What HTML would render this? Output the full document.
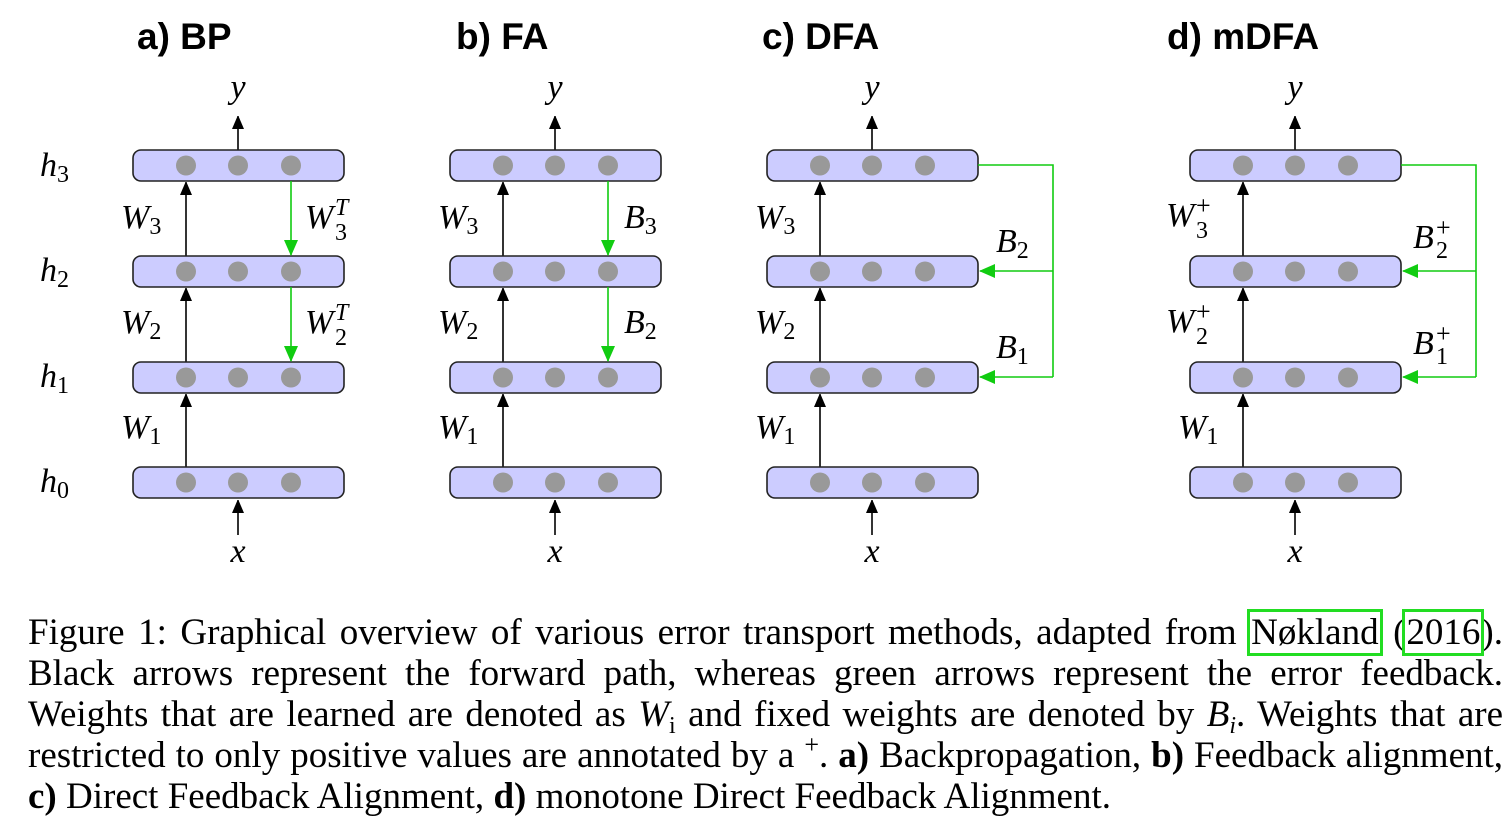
<!DOCTYPE html>
<html><head><meta charset="utf-8"><style>
body{margin:0;background:#fff;width:1511px;height:828px;overflow:hidden;position:relative}
svg{position:absolute;left:0;top:0}
.cap{position:absolute;left:28px;width:1475px;font-family:"Liberation Serif",serif;font-size:37px;line-height:41px;color:#000}
.ln{white-space:nowrap;text-align:justify;text-align-last:justify;height:41px;overflow:visible}
.ln.last{text-align-last:left}
.bx{outline:3px solid #22dd22;outline-offset:0px;padding:0 1px}
i{font-style:italic}
.sb{font-size:24px;font-style:normal;position:relative;top:7px;line-height:0}
.sp{font-size:26px;position:relative;top:-14px;line-height:0}
</style></head><body>
<svg width="1511" height="600" viewBox="0 0 1511 600">
<defs>
<marker id="ab" markerWidth="12" markerHeight="12" refX="13" refY="6" orient="auto" markerUnits="userSpaceOnUse"><path d="M0,0 L14,6 L0,12 z" fill="#000"/></marker>
<marker id="ag" markerWidth="16" markerHeight="14" refX="15" refY="7" orient="auto" markerUnits="userSpaceOnUse"><path d="M0,0 L16,7 L0,14 z" fill="#11cc11"/></marker>
<g id="L"><rect x="0" y="0" width="211" height="31" rx="8" fill="#ccccff" stroke="#222" stroke-width="1.6"/><circle cx="53" cy="15.5" r="10" fill="#999"/><circle cx="105" cy="15.5" r="10" fill="#999"/><circle cx="158" cy="15.5" r="10" fill="#999"/></g>
<g id="P">
<line x1="105" y1="150" x2="105" y2="116" stroke="#000" stroke-width="1.6" marker-end="url(#ab)"/>
<line x1="53" y1="256" x2="53" y2="182" stroke="#000" stroke-width="1.6" marker-end="url(#ab)"/>
<line x1="53" y1="362" x2="53" y2="288" stroke="#000" stroke-width="1.6" marker-end="url(#ab)"/>
<line x1="53" y1="467" x2="53" y2="394" stroke="#000" stroke-width="1.6" marker-end="url(#ab)"/>
<use href="#L" y="150"/><use href="#L" y="256"/><use href="#L" y="362"/><use href="#L" y="467"/>
</g>
<g id="GA">
<line x1="158" y1="181" x2="158" y2="255" stroke="#11cc11" stroke-width="1.6" marker-end="url(#ag)"/>
<line x1="158" y1="287" x2="158" y2="361" stroke="#11cc11" stroke-width="1.6" marker-end="url(#ag)"/>
</g>
<g id="GC">
<polyline points="211,165 286,165 286,377" fill="none" stroke="#11cc11" stroke-width="1.6"/>
<line x1="286" y1="271" x2="213" y2="271" stroke="#11cc11" stroke-width="1.6" marker-end="url(#ag)"/>
<line x1="286" y1="377" x2="213" y2="377" stroke="#11cc11" stroke-width="1.6" marker-end="url(#ag)"/>
</g>
</defs>
<use href="#P" x="133"/><use href="#GA" x="133"/>
<use href="#P" x="450"/><use href="#GA" x="450"/>
<use href="#P" x="767"/><use href="#GC" x="767"/>
<use href="#P" x="1190"/><use href="#GC" x="1190"/>
<g stroke="#000" stroke-width="1.6" marker-end="url(#ab)">
<line x1="238" y1="535" x2="238" y2="500"/><line x1="555" y1="535" x2="555" y2="500"/>
<line x1="872" y1="535" x2="872" y2="500"/><line x1="1295" y1="535" x2="1295" y2="500"/>
</g>
<g font-family="Liberation Sans,sans-serif" font-weight="bold" font-size="37">
<text x="137" y="49">a) BP</text><text x="456" y="49">b) FA</text><text x="762" y="49">c) DFA</text><text x="1167" y="49">d) mDFA</text>
</g>
<g font-family="Liberation Serif,serif" font-size="34" fill="#000">
<g font-style="italic" text-anchor="middle">
<text x="238" y="98">y</text><text x="555" y="98">y</text><text x="872" y="98">y</text><text x="1295" y="98">y</text>
<text x="238" y="562">x</text><text x="555" y="562">x</text><text x="872" y="562">x</text><text x="1295" y="562">x</text>
</g>
<g font-style="italic">
<text x="40" y="176">h<tspan font-size="24" font-style="normal" dy="6">3</tspan></text>
<text x="40" y="281">h<tspan font-size="24" font-style="normal" dy="6">2</tspan></text>
<text x="40" y="387">h<tspan font-size="24" font-style="normal" dy="6">1</tspan></text>
<text x="40" y="492">h<tspan font-size="24" font-style="normal" dy="6">0</tspan></text>
<text x="121" y="228">W<tspan font-size="24" font-style="normal" dy="6">3</tspan></text>
<text x="121" y="333">W<tspan font-size="24" font-style="normal" dy="6">2</tspan></text>
<text x="121" y="438">W<tspan font-size="24" font-style="normal" dy="6">1</tspan></text>
<text x="438" y="228">W<tspan font-size="24" font-style="normal" dy="6">3</tspan></text>
<text x="438" y="333">W<tspan font-size="24" font-style="normal" dy="6">2</tspan></text>
<text x="438" y="438">W<tspan font-size="24" font-style="normal" dy="6">1</tspan></text>
<text x="755" y="228">W<tspan font-size="24" font-style="normal" dy="6">3</tspan></text>
<text x="755" y="333">W<tspan font-size="24" font-style="normal" dy="6">2</tspan></text>
<text x="755" y="438">W<tspan font-size="24" font-style="normal" dy="6">1</tspan></text>
<text x="1166" y="226">W</text><text x="1196" y="238" font-size="24" font-style="normal">3</text><text x="1196" y="214" font-size="26" font-style="normal">+</text>
<text x="1166" y="332">W</text><text x="1196" y="344" font-size="24" font-style="normal">2</text><text x="1196" y="320" font-size="26" font-style="normal">+</text>
<text x="1178" y="438">W<tspan font-size="24" font-style="normal" dy="6">1</tspan></text>
<text x="305" y="228">W</text><text x="335" y="240" font-size="24" font-style="normal">3</text><text x="335" y="215" font-size="24">T</text>
<text x="305" y="333">W</text><text x="335" y="345" font-size="24" font-style="normal">2</text><text x="335" y="320" font-size="24">T</text>
<text x="624" y="228">B<tspan font-size="24" font-style="normal" dy="6">3</tspan></text>
<text x="624" y="333">B<tspan font-size="24" font-style="normal" dy="6">2</tspan></text>
<text x="996" y="252">B<tspan font-size="24" font-style="normal" dy="6">2</tspan></text>
<text x="996" y="358">B<tspan font-size="24" font-style="normal" dy="6">1</tspan></text>
<text x="1413" y="248">B</text><text x="1436" y="258" font-size="24" font-style="normal">2</text><text x="1436" y="236" font-size="26" font-style="normal">+</text>
<text x="1413" y="354">B</text><text x="1436" y="364" font-size="24" font-style="normal">1</text><text x="1436" y="342" font-size="26" font-style="normal">+</text>
</g>
</g>
</svg>
<div class="cap" style="top:612px">
<div class="ln">Figure 1: Graphical overview of various error transport methods, adapted from <span class="bx">Nøkland</span> (<span class="bx">2016</span>).</div>
<div class="ln">Black arrows represent the forward path, whereas green arrows represent the error feedback.</div>
<div class="ln">Weights that are learned are denoted as <i>W<span class="sb">i</span></i> and fixed weights are denoted by <i>B<span class="sb" style="font-style:italic">i</span></i>. Weights that are</div>
<div class="ln">restricted to only positive values are annotated by a <span class="sp">+</span>. <b>a)</b> Backpropagation, <b>b)</b> Feedback alignment,</div>
<div class="ln last"><b>c)</b> Direct Feedback Alignment, <b>d)</b> monotone Direct Feedback Alignment.</div>
</div>
</body></html>
